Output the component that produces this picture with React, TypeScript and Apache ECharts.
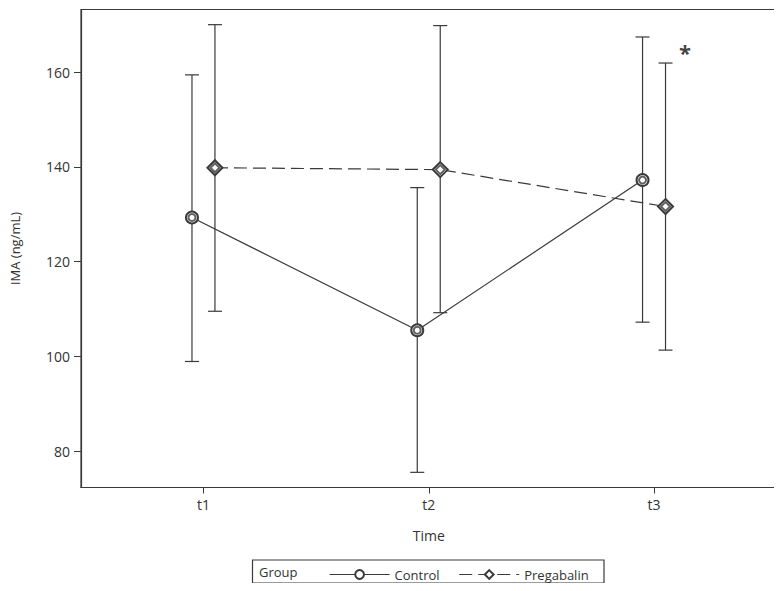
import React, { useEffect, useRef } from "react";
import * as echarts from "echarts";

const timeLabels = ["t1", "t2", "t3"];
const controlMean = [129.3, 105.5, 137.2];
const controlLow = [98.9, 75.5, 107.2];
const controlHigh = [159.4, 135.6, 167.4];
const pregMean = [139.8, 139.4, 131.6];
const pregLow = [109.5, 109.2, 101.3];
const pregHigh = [170.0, 169.8, 161.9];
const yTicks = [80, 100, 120, 140, 160];
const annotation = { x: 3.137, y: 164.3, text: "*" };

const OFFSET = 0.051;
const INK = "#3a3a3a";
const FONT = "'Open Sans', 'Noto Sans', sans-serif";

export default function App() {
  const ref = useRef<HTMLDivElement>(null);
  useEffect(() => {
    const chart = echarts.init(ref.current!, null, { renderer: "svg" });
    const xs = timeLabels.map((_, i) => i + 1);
    const cPts = xs.map((x, i) => [x - OFFSET, controlMean[i]]);
    const pPts = xs.map((x, i) => [x + OFFSET, pregMean[i]]);
    const cErr = xs.map((x, i) => [x - OFFSET, controlLow[i], controlHigh[i]]);
    const pErr = xs.map((x, i) => [x + OFFSET, pregLow[i], pregHigh[i]]);

    const errRender = (params: any, api: any) => {
      const x = api.value(0);
      const lo = api.coord([x, api.value(1)]);
      const hi = api.coord([x, api.value(2)]);
      const hw = 7;
      const style = { stroke: INK, lineWidth: 1.2 };
      return {
        type: "group",
        children: [
          { type: "line", shape: { x1: lo[0], y1: lo[1], x2: hi[0], y2: hi[1] }, style },
          { type: "line", shape: { x1: lo[0] - hw, y1: lo[1], x2: lo[0] + hw, y2: lo[1] }, style },
          { type: "line", shape: { x1: hi[0] - hw, y1: hi[1], x2: hi[0] + hw, y2: hi[1] }, style },
        ],
      };
    };

    chart.setOption({
      animation: false,
      grid: {
        left: 80,
        right: 5.5,
        top: 9.5,
        bottom: 103.5,
        show: true,
        borderColor: INK,
        borderWidth: 1.2,
      },
      xAxis: {
        type: "value",
        min: 1 - 0.5436,
        max: 3 + 0.5436,
        name: "Time",
        nameLocation: "middle",
        nameGap: 41,
        nameTextStyle: { fontFamily: FONT, fontSize: 14, color: "#333" },
        axisLine: { lineStyle: { color: INK, width: 1.2 } },
        axisTick: { show: true, length: 6, customValues: xs, lineStyle: { color: INK } },
        axisLabel: {
          customValues: xs,
          formatter: (v: number) => timeLabels[Math.round(v) - 1] ?? "",
          fontFamily: FONT,
          fontSize: 14,
          color: "#333",
          margin: 10,
        },
        splitLine: { show: false },
      },
      yAxis: {
        type: "value",
        min: 72.3,
        max: 173.2,
        name: "IMA (ng/mL)",
        nameLocation: "middle",
        nameGap: 60,
        nameTextStyle: { fontFamily: FONT, fontSize: 13, color: "#333" },
        axisLine: { show: true, lineStyle: { color: INK, width: 1.2 } },
        axisTick: { show: true, length: 7, customValues: yTicks, lineStyle: { color: INK } },
        axisLabel: {
          customValues: yTicks,
          fontFamily: FONT,
          fontSize: 14,
          color: "#333",
          margin: 11,
        },
        splitLine: { show: false },
      },
      legend: {
        left: 324,
        top: 563,
        itemWidth: 60,
        itemHeight: 11,
        itemGap: 19,
        textStyle: { fontFamily: FONT, fontSize: 13, color: "#333" },
        lineStyle: { width: 1.2 },
        itemStyle: { borderWidth: 1.2 },
        data: ["Control", "Pregabalin"],
      },
      graphic: [
        {
          type: "rect",
          shape: { x: 252.5, y: 560, width: 351.5, height: 23 },
          style: { fill: "none", stroke: INK, lineWidth: 1.2 },
        },
        {
          type: "text",
          x: 259,
          y: 571.5,
          style: { text: "Group", fontFamily: FONT, fontSize: 13, fill: "#333", verticalAlign: "middle" },
        },
      ],
      series: [
        {
          type: "custom",
          name: "ctrlErr",
          renderItem: errRender,
          data: cErr,
          encode: { x: 0, y: [1, 2] },
          z: 1,
        },
        {
          type: "custom",
          name: "pregErr",
          renderItem: errRender,
          data: pErr,
          encode: { x: 0, y: [1, 2] },
          z: 1,
        },
        {
          type: "line",
          name: "Control",
          data: cPts,
          symbol: "emptyCircle",
          symbolSize: 12,
          lineStyle: { color: INK, width: 1.2, type: "solid" },
          itemStyle: { color: INK, borderColor: INK, borderWidth: 1.2 },
          z: 3,
        },
        {
          type: "line",
          name: "Pregabalin",
          data: pPts,
          symbol: "emptyDiamond",
          symbolSize: 15,
          lineStyle: { color: INK, width: 1.2, type: [13, 6] },
          itemStyle: { color: INK, borderColor: INK, borderWidth: 1.2 },
          z: 3,
        },
        {
          type: "scatter",
          name: "ctrlInner",
          data: cPts,
          symbol: "emptyCircle",
          symbolSize: 7,
          itemStyle: { color: INK, borderColor: INK, borderWidth: 1 },
          z: 4,
        },
        {
          type: "scatter",
          name: "pregInner",
          data: pPts,
          symbol: "emptyDiamond",
          symbolSize: 9,
          itemStyle: { color: INK, borderColor: INK, borderWidth: 1 },
          z: 4,
        },
        {
          type: "scatter",
          name: "annot",
          data: [[annotation.x, annotation.y]],
          symbolSize: 0,
          label: {
            show: true,
            position: "inside",
            formatter: annotation.text,
            fontFamily: FONT,
            fontSize: 22,
            fontWeight: "bold",
            color: "#111",
          },
        },
      ],
    });
    return () => chart.dispose();
  }, []);
  return <div ref={ref} style={{ width: 782, height: 591, margin: -8 }} />;
}
